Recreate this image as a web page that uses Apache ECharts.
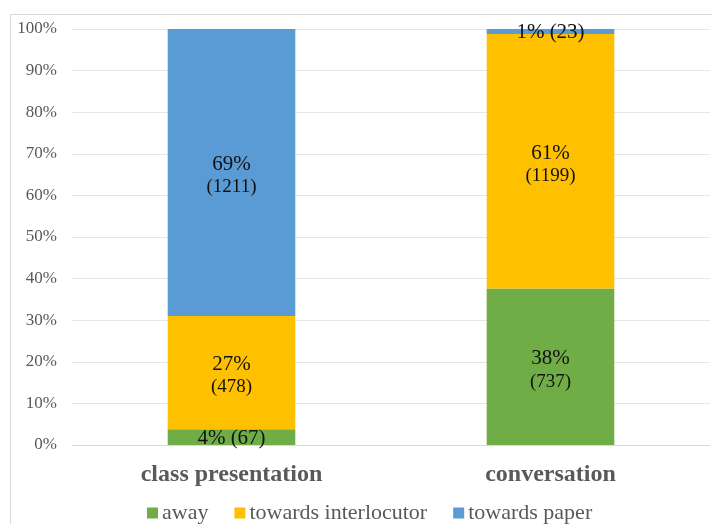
<!DOCTYPE html>
<html>
<head>
<meta charset="utf-8">
<script src="https://cdn.jsdelivr.net/npm/echarts@6/dist/echarts.min.js"></script>
<style>html,body{margin:0;padding:0;background:#fff}#c{width:712px;height:524px}</style>
</head>
<body>
<div id="c"></div>
<script>
const categories = ['class presentation', 'conversation'];
const seriesNames = ['away', 'towards interlocutor', 'towards paper'];
const awayCounts = [67, 737];
const interlocutorCounts = [478, 1199];
const paperCounts = [1211, 23];
const awayPct = [4, 38];
const interlocutorPct = [27, 61];
const paperPct = [69, 1];
const yTicks = [0, 10, 20, 30, 40, 50, 60, 70, 80, 90, 100];
const colors = ['#70AD47', '#FFC000', '#5B9BD5'];

const counts = [awayCounts, interlocutorCounts, paperCounts];
const pcts = [awayPct, interlocutorPct, paperPct];
const totals = categories.map((_, i) => counts.reduce((s, a) => s + a[i], 0));
const serif = '"Liberation Serif", "DejaVu Serif", serif';

const chart = echarts.init(document.getElementById('c'));
const series = seriesNames.map((name, k) => ({
  name,
  type: 'bar',
  stack: 'total',
  barWidth: '40%',
  itemStyle: { color: colors[k] },
  data: counts[k].map((c, i) => {
    const small = pcts[k][i] < 10;
    return {
      value: c / totals[i] * 100,
      label: {
        offset: small ? [0, 1] : [0, 3],
        formatter: small
          ? '{p|' + pcts[k][i] + '% (' + c + ')}'
          : '{p|' + pcts[k][i] + '%}\n{c|(' + c + ')}'
      }
    };
  }),
  label: {
    show: true,
    position: 'inside',
    color: '#111',
    fontFamily: serif,
    fontSize: 21,
    rich: {
      p: { fontSize: 21, fontFamily: serif, color: '#111', lineHeight: 24 },
      c: { fontSize: 19, fontFamily: serif, color: '#111', lineHeight: 22 }
    }
  }
}));

chart.setOption({
  animation: false,
  graphic: [{
    type: 'rect',
    shape: { x: 10.5, y: 14.5, width: 720, height: 530 },
    style: { fill: 'none', stroke: '#d9d9d9', lineWidth: 1 },
    silent: true, z: -10
  }],
  grid: { left: 72, right: 2, top: 29, bottom: 79 },
  legend: {
    top: 497,
    left: 142,
    itemWidth: 11, itemHeight: 11, itemGap: 26,
    icon: 'rect',
    textStyle: { fontFamily: serif, fontSize: 22, color: '#595959', padding: [0, 0, 0, -1] },
    data: seriesNames
  },
  xAxis: {
    type: 'category',
    data: categories,
    axisLine: { show: true, lineStyle: { color: '#d9d9d9' } },
    axisTick: { show: false },
    axisLabel: { fontFamily: serif, fontSize: 24, fontWeight: 'bold', color: '#595959', margin: 18 }
  },
  yAxis: {
    type: 'value',
    min: yTicks[0], max: yTicks[yTicks.length - 1], interval: 10,
    axisLine: { show: false },
    axisTick: { show: false },
    splitLine: { lineStyle: { color: '#e6e6e6', width: 1 } },
    axisLabel: { fontFamily: serif, fontSize: 17, color: '#595959', margin: 15, formatter: v => v + '%' }
  },
  series
});
</script>
</body>
</html>
